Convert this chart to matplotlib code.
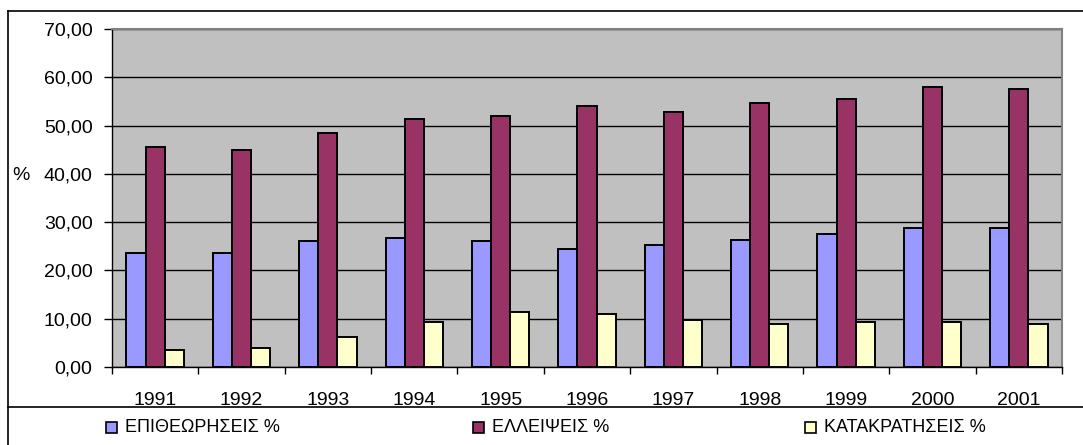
import numpy as np
import matplotlib
matplotlib.use('Agg')
import matplotlib.pyplot as plt
from matplotlib.patches import Rectangle
from matplotlib.lines import Line2D
from matplotlib.ticker import FuncFormatter

plt.rcParams['font.family'] = ['Liberation Sans', 'DejaVu Sans']

# δεδομένα
years = ['1991', '1992', '1993', '1994', '1995', '1996', '1997', '1998', '1999', '2000', '2001']
epitheoriseis = [23.7, 23.7, 26.1, 26.8, 26.1, 24.5, 25.3, 26.4, 27.5, 28.7, 28.7]
elleipseis = [45.5, 45.0, 48.5, 51.3, 52.0, 54.0, 52.8, 54.7, 55.5, 57.9, 57.5]
katakratiseis = [3.5, 3.9, 6.3, 9.4, 11.3, 10.9, 9.7, 9.0, 9.4, 9.4, 9.0]
series_names = ['ΕΠΙΘΕΩΡΗΣΕΙΣ %', 'ΕΛΛΕΙΨΕΙΣ %', 'ΚΑΤΑΚΡΑΤΗΣΕΙΣ %']
colors = ['#9999FF', '#993366', '#FFFFCC']

W, H = 1083, 445
fig = plt.figure(figsize=(W / 100, H / 100), dpi=100)
ax = fig.add_axes([112 / W, (H - 367) / H, (1062 - 112) / W, (367 - 29) / H])
ax.set_facecolor('#C0C0C0')

x = np.arange(len(years))
bw = 0.222
for i, (vals, c) in enumerate(zip([epitheoriseis, elleipseis, katakratiseis], colors)):
    ax.bar(x + (i - 1) * bw, vals, width=bw, color=c, edgecolor='black',
           linewidth=1.4, zorder=3)

ax.set_xlim(-0.5, len(years) - 0.5)
ax.set_ylim(0, 70)
ax.set_yticks(np.arange(0, 71, 10))
ax.yaxis.set_major_formatter(FuncFormatter(lambda v, p: f'{v:.2f}'.replace('.', ',')))
ax.grid(axis='y', color='black', linewidth=1, zorder=1)
ax.set_axisbelow(True)

# ticks στα όρια των κατηγοριών
ax.set_xticks(np.arange(-0.5, len(years), 1.0))
ax.set_xticklabels([])
ax.set_xticks(x, minor=True)
ax.set_xticklabels(years, minor=True, fontsize=14)
ax.tick_params(axis='x', which='minor', length=0, pad=18)
ax.tick_params(axis='x', which='major', length=5, width=1, direction='out')
ax.tick_params(axis='y', length=6, width=1, labelsize=14, pad=8)

for s in ['top', 'right']:
    ax.spines[s].set_color('#808080')
    ax.spines[s].set_linewidth(1.5)
for s in ['left', 'bottom']:
    ax.spines[s].set_color('black')
    ax.spines[s].set_linewidth(1)

fig.text(21 / W, 1 - 176 / H, '%', fontsize=14, ha='center', va='center')

# πλαίσιο γραφήματος
fig.add_artist(Line2D([8 / W, 1], [1 - 11 / H, 1 - 11 / H], color='black', linewidth=1.2))
fig.add_artist(Line2D([8 / W, 8 / W], [0, 1 - 11 / H], color='black', linewidth=1.2))
fig.add_artist(Line2D([8 / W, 1], [1 - 407 / H, 1 - 407 / H], color='black', linewidth=1.2))

# υπόμνημα
marker_x = [106, 473, 805]
for mx, name, c in zip(marker_x, series_names, colors):
    fig.add_artist(Rectangle((mx / W, 1 - 433 / H), 11 / W, 11 / H, facecolor=c,
                             edgecolor='black', linewidth=1.2, transform=fig.transFigure))
    fig.text((mx + 19) / W, 1 - 428 / H, name, fontsize=13, ha='left', va='center')

fig.savefig('out.png', dpi=100)
